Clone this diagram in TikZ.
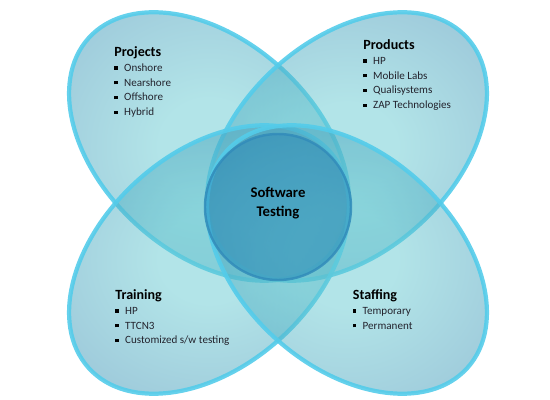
\documentclass[tikz,border=0pt]{standalone}
\usepackage{fontspec}
\setmainfont{Carlito}
\usetikzlibrary{positioning}

\definecolor{petalrim}{RGB}{84,204,234}
\definecolor{petallite}{RGB}{101,201,209}
\definecolor{petaldeep}{RGB}{35,115,165}
\definecolor{hubfill}{RGB}{40,130,180}
\definecolor{hubrim}{RGB}{50,140,186}
\definecolor{itemgray}{RGB}{35,35,45}
\pgfdeclareradialshading{petalglow}{\pgfpoint{0bp}{0bp}}{color(0bp)=(petallite); color(8bp)=(petallite); color(42bp)=(petaldeep); color(50bp)=(petaldeep)}

\newcommand{\hd}[1]{{\bfseries\fontsize{8}{9}\selectfont\color{black}#1}}
\newcommand{\bul}{\makebox[5.6pt][l]{\color{black}\rule[1.1pt]{1.8pt}{1.8pt}}}

\begin{document}
\begin{tikzpicture}[petal/.style={shading=petalglow, fill opacity=0.5, draw=petalrim,
		draw opacity=0.9, line width=2.4pt},
	block/.style={inner sep=0pt, anchor=north west, align=left, text=itemgray,
		font=\fontsize{6.3}{8.4}\selectfont}]
	\useasboundingbox (-5.56,-3.94) rectangle (5.44,4.06);
	% petals: projects, products, training, staffing
	\foreach \cx/\cy/\ang in {-1.38/1.13/-42, 1.38/1.13/42, -1.38/-1.13/42, 1.38/-1.13/-42}
		\shadedraw[petal, shift={(\cx,\cy)}, rotate=\ang] (0,0) ellipse [x radius=3.24, y radius=2.13];
	% hub
	\draw[fill=hubfill, fill opacity=0.42, draw=hubrim, draw opacity=0.85, line width=1.4pt] (0,-0.08) circle (1.46);
	\node[align=center, inner sep=0pt, font=\bfseries\fontsize{8.4}{10.8}\selectfont] (hub) at (0,0) {Software\\Testing};
	\node[block] (projects) at (-3.28,3.13) {\hd{Projects}\\\bul Onshore\\\bul Nearshore\\\bul Offshore\\\bul Hybrid};
	\node[block] (products) at (1.70,3.27) {\hd{Products}\\\bul HP\\\bul Mobile Labs\\\bul Qualisystems\\\bul ZAP Technologies};
	\node[block] (training) at (-3.26,-1.73) {\hd{Training}\\\bul HP\\\bul TTCN3\\\bul Customized s/w testing};
	\node[block] (staffing) at (1.49,-1.73) {\hd{Staffing}\\\bul Temporary\\\bul Permanent};
\end{tikzpicture}
\end{document}
